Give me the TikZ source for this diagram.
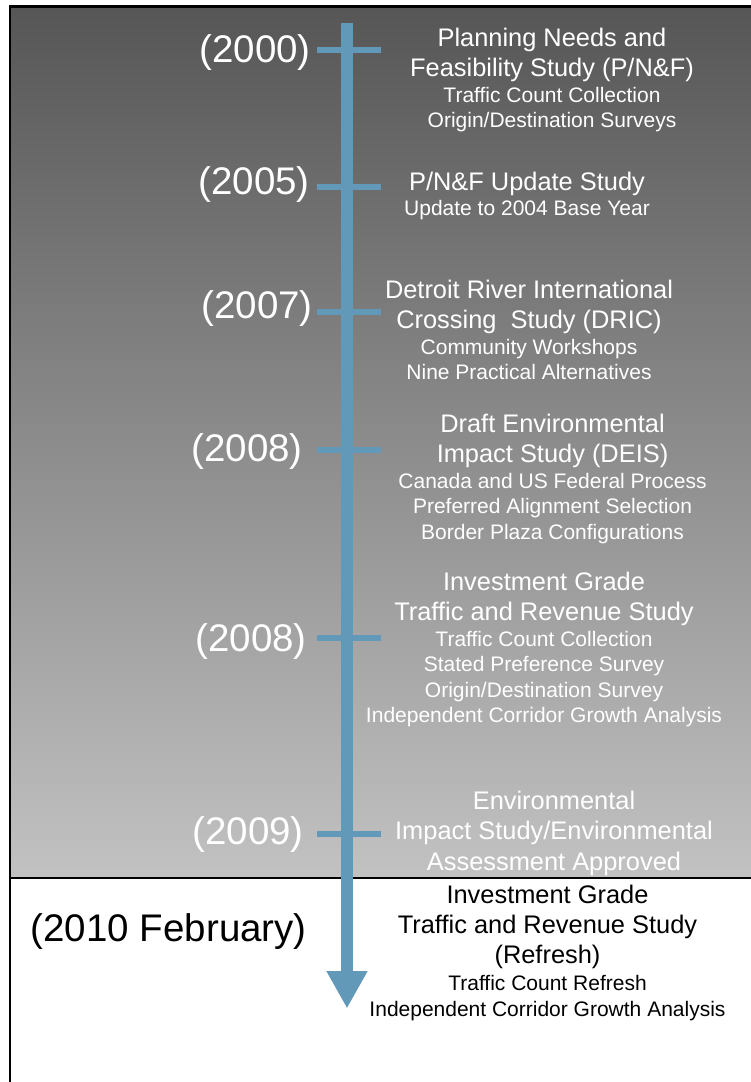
\documentclass[tikz,border=0pt]{standalone}
\usepackage{fontspec}
\setmainfont{Liberation Sans}
\usetikzlibrary{arrows.meta}

\definecolor{lineblue}{RGB}{99,153,184}
\definecolor{panetop}{RGB}{86,86,86}
\definecolor{panebot}{RGB}{194,194,194}

\newcommand{\yrfont}{\fontsize{38.5}{42}\selectfont}
\newcommand{\ttlfont}{\fontsize{25.4}{30}\selectfont}
\newcommand{\subfont}{\fontsize{21}{25.5}\selectfont}

\tikzset{
  yearlbl/.style={anchor=base east, inner sep=0pt, text=white, font=\yrfont},
  evtext/.style={anchor=north, inner sep=0pt, align=center, text=white, font=\subfont},
  yeartick/.style={draw=lineblue, line width=6pt},
}

\begin{document}
\begin{tikzpicture}[x=1pt, y=-1pt]
\useasboundingbox (0,0) rectangle (750,1082);

% Background panel
\shade[top color=panetop, bottom color=panebot] (10,6.5) rectangle (752,878);
\draw[line width=2.5pt] (10,1083) -- (10,6.5) -- (752,6.5);
\draw[line width=2pt] (10,878) -- (752,878);

% Time line
\coordinate (start) at (347,23);
\coordinate (tip) at (347,1008.5);
\draw[lineblue, line width=12pt, -{Triangle[width=38.5pt, length=37.5pt]}] (start) -- (tip);

% Year ticks
\foreach \ty in {49.7, 186.5, 312, 450, 638, 834}
  \draw[yeartick] (317,\ty) -- (381,\ty);

% Years
\node[yearlbl] (y2000) at (311,62.5) {(2000)};
\node[yearlbl] (y2005) at (310,194) {(2005)};
\node[yearlbl] (y2007) at (313,318) {(2007)};
\node[yearlbl] (y2008a) at (303,461) {(2008)};
\node[yearlbl] (y2008b) at (307,651) {(2008)};
\node[yearlbl] (y2009) at (304,844) {(2009)};
\node[yearlbl, text=black] (y2010) at (307,941) {(2010 February)};

% Studies
\node[evtext] (e2000) at (552,27.5) {{\ttlfont Planning Needs and}\\[5pt]
  {\ttlfont Feasibility Study (P/N\&F)}\\
  Traffic Count Collection\\
  Origin/Destination Surveys};
\node[evtext] (e2005) at (527,171.5) {{\ttlfont P/N\&F Update Study}\\
  Update to 2004 Base Year};
\node[evtext] (e2007) at (529,279.5) {{\ttlfont Detroit River International}\\[5pt]
  {\ttlfont Crossing~ Study (DRIC)}\\
  Community Workshops\\
  Nine Practical Alternatives};
\node[evtext] (e2008a) at (552.5,413.5) {{\ttlfont Draft Environmental}\\[5pt]
  {\ttlfont Impact Study (DEIS)}\\
  Canada and US Federal Process\\
  Preferred Alignment Selection\\
  Border Plaza Configurations};
\node[evtext] (e2008b) at (544,571.5) {{\ttlfont Investment Grade}\\[5pt]
  {\ttlfont Traffic and Revenue Study}\\
  Traffic Count Collection\\
  Stated Preference Survey\\
  Origin/Destination Survey\\
  Independent Corridor Growth Analysis};
\node[evtext] (e2009) at (554,790.5) {{\ttlfont Environmental}\\[5pt]
  {\ttlfont Impact Study/Environmental}\\[5pt]
  {\ttlfont Assessment Approved}};
\node[evtext, text=black] (e2010) at (547.5,884.5) {{\ttlfont Investment Grade}\\[5pt]
  {\ttlfont Traffic and Revenue Study}\\[4pt]
  {\ttlfont (Refresh)}\\[2pt]
  Traffic Count Refresh\\
  Independent Corridor Growth Analysis};
\end{tikzpicture}
\end{document}
